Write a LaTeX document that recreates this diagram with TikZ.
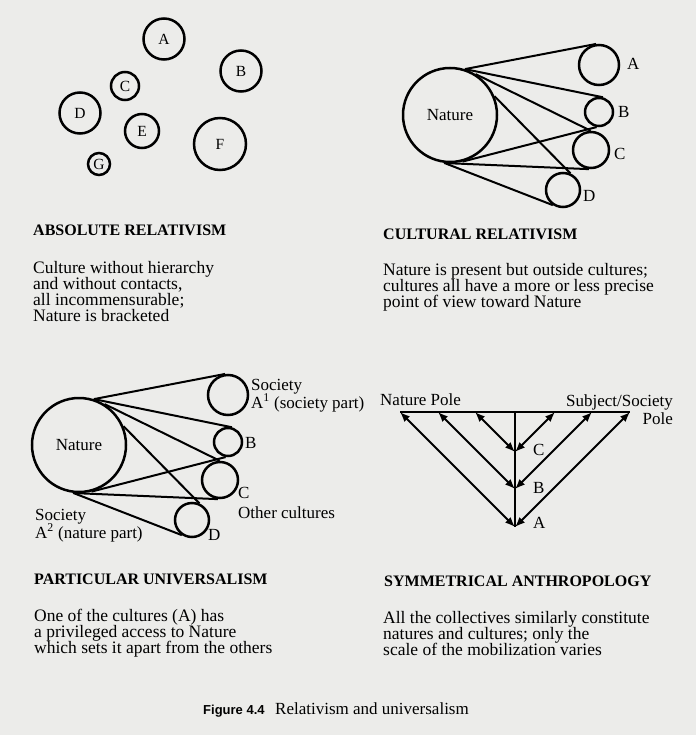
\documentclass[tikz,border=0pt]{standalone}
\usepackage{fontspec}
\setmainfont{Liberation Serif}
\setsansfont{Liberation Sans}
\usetikzlibrary{math,arrows.meta}
\definecolor{paper}{RGB}{236,236,234}
\setlength{\lineskiplimit}{-20pt}

\begin{document}
\begin{tikzpicture}[
  x=1pt,y=-1pt,
  culture_circle/.style={
    draw,circle,line width=2.5pt,inner sep=0pt,font=\fontsize{15.5}{16}\selectfont
  },
  nature_circle/.style={
    draw,circle,line width=2.5pt,inner sep=0pt,minimum size=94,font=\fontsize{17}{17}\selectfont
  },
  view_line/.style={
    line width=2pt
  },
  tag_text/.style={
    inner sep=0pt,anchor=base west,align=left,font=\fontsize{17}{18}\selectfont
  },
  heading_text/.style={
    inner sep=0pt,anchor=base west,font=\fontsize{16}{16}\selectfont\bfseries
  },
  body_text/.style={
    inner sep=0pt,anchor=base west,align=left,font=\fontsize{17.5}{16}\selectfont
  },
  pole_arrow/.style={
    line width=2pt,{Latex[length=10pt,width=8pt]}-{Latex[length=10pt,width=8pt]}
  }]
  %
  \useasboundingbox (0,0) rectangle (696,735);
  \fill[paper] (0,0) rectangle (696,735);
  % absolute relativism
  \foreach \n/\x/\y/\rad in {A/164/39/20.5,B/241/71/20.5,C/125/86/14,D/80/113/20.5,
                             E/142/131/17,F/220/144/26,G/99/164/11} {
    \node[culture_circle,minimum size=2*\rad] (abs_\n) at (\x,\y) {\n};
  }
  % cultural relativism and particular universalism
  \foreach \p/\x/\y in {cr/450/115,pu/79/445} {
    \begin{scope}[shift={(\x,\y)}]
      \node[nature_circle] (\p_nat) at (0,0) {Nature};
      \node[culture_circle,minimum size=40] (\p_A) at (149,-50) {};
      \node[culture_circle,minimum size=28] (\p_B) at (149,-3) {};
      \node[culture_circle,minimum size=36] (\p_C) at (141,35) {};
      \node[culture_circle,minimum size=34] (\p_D) at (113,75) {};
      \foreach \a/\t in {72/A.98,72/B.75,58/C.91,23/D.66,-75/B.-99,-94/C.-96,-97/D.-124} {
        \draw[view_line] (\p_nat.\a) -- (\p_\t);
      }
    \end{scope}
  }
  \foreach \n/\x/\y in {A/627/70,B/618/118,C/614/160,D/583/202} {
    \node[tag_text] (cr_l\n) at (\x,\y) {\n};
  }
  \node[tag_text] (pu_lA) at (251,408) {Society\\A\textsuperscript{1} (society part)};
  \node[tag_text] (pu_lB) at (245,448) {B};
  \node[tag_text] (pu_lC) at (238,498) {C};
  \node[tag_text] (pu_lo) at (238,518) {Other cultures};
  \node[tag_text] (pu_lD) at (208,540) {D};
  \node[tag_text] (pu_ln) at (35,538) {Society\\A\textsuperscript{2} (nature part)};
  % symmetrical anthropology
  \coordinate (sa_top) at (515,412);
  \foreach \n/\y/\b in {A/527/528,B/489/493,C/452/455} {
    \tikzmath {
      \dd = \y - 412;
      \xl = 515 - \dd;
      \xr = 515 + \dd;
    }
    \coordinate (sa_\n) at (515,\y);
    \coordinate (np_\n) at (\xl,412);
    \coordinate (sp_\n) at (\xr,412);
    \draw[pole_arrow] (np_\n) -- (sa_\n);
    \draw[pole_arrow] (sp_\n) -- (sa_\n);
    \node[tag_text] (sa_l\n) at (533,\b) {\n};
  }
  \draw[view_line] (np_A) -- (sp_A);
  \draw[view_line] (sa_top) -- (sa_A);
  \node[tag_text] (np_text) at (380,405) {Nature Pole};
  \node[tag_text,anchor=base east,align=right] (sp_text) at (673,424) {Subject/Society\\Pole};
  % texts
  \node[heading_text] (abs_head) at (33,236) {ABSOLUTE RELATIVISM};
  \node[body_text] (abs_body) at (33,321) {Culture without hierarchy\\and without contacts,\\all incommensurable;\\Nature is bracketed};
  \node[heading_text] (cr_head) at (383,240) {CULTURAL RELATIVISM};
  \node[body_text] (cr_body) at (383,307) {Nature is present but outside cultures;\\cultures all have a more or less precise\\point of view toward Nature};
  \node[heading_text] (pu_head) at (34,584) {PARTICULAR UNIVERSALISM};
  \node[body_text] (pu_body) at (34,653) {One of the cultures (A) has\\a privileged access to Nature\\which sets it apart from the others};
  \node[heading_text] (sa_head) at (384,586) {SYMMETRICAL ANTHROPOLOGY};
  \node[body_text] (sa_body) at (383,655) {All the collectives similarly constitute\\natures and cultures; only the\\scale of the mobilization varies};
  %
  \node[inner sep=0pt,anchor=base west,font=\fontsize{13}{13}\selectfont\sffamily\bfseries] (fig_no) at (203,714) {Figure 4.4};
  \node[inner sep=0pt,anchor=base west,font=\fontsize{17}{17}\selectfont] (fig_title) at (275,714) {Relativism and universalism};
\end{tikzpicture}
\end{document}
